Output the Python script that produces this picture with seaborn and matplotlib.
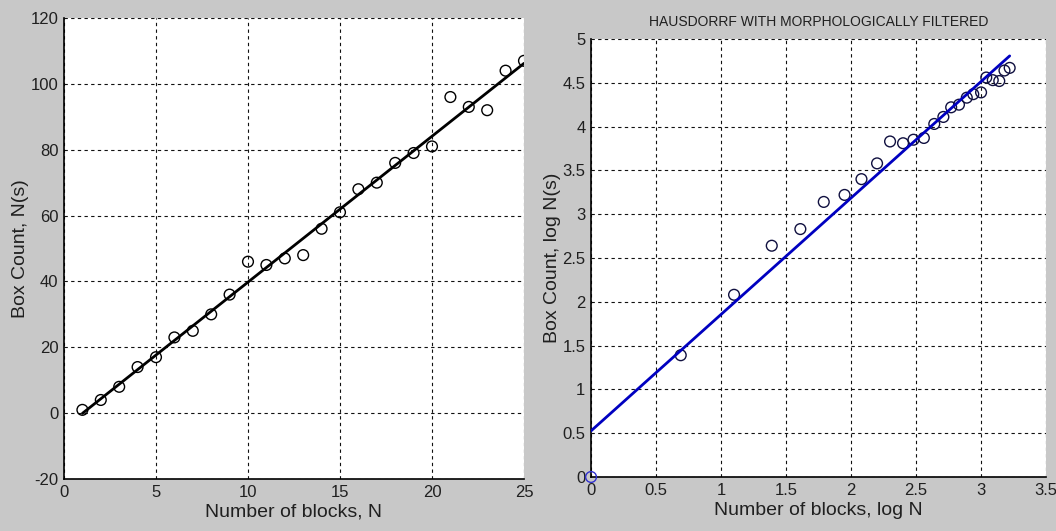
import matplotlib
matplotlib.use("Agg")
import matplotlib.pyplot as plt
import seaborn as sns
import numpy as np
import pandas as pd

# Left panel: number of blocks vs box count
blocks = [1, 2, 3, 4, 5, 6, 7, 8, 9, 10, 11, 12, 13, 14, 15, 16, 17, 18, 19, 20, 21, 22, 23, 24, 25]
box_count = [1, 4, 8, 14, 17, 23, 25, 30, 36, 46, 45, 47, 48, 56, 61, 68, 70, 76, 79, 81, 96, 93, 92, 104, 107]

# Right panel: log values
log_blocks = [0.00, 0.69, 1.10, 1.39, 1.61, 1.79, 1.95, 2.08, 2.20, 2.30, 2.40, 2.48, 2.56, 2.64, 2.71,
              2.77, 2.83, 2.89, 2.94, 3.00, 3.04, 3.09, 3.14, 3.18, 3.22]
log_box_count = [0.00, 1.39, 2.08, 2.64, 2.83, 3.14, 3.22, 3.40, 3.58, 3.83, 3.81, 3.85, 3.87, 4.03, 4.11,
                 4.22, 4.25, 4.33, 4.37, 4.39, 4.56, 4.53, 4.52, 4.64, 4.67]

title_right = "HAUSDORRF WITH MORPHOLOGICALLY FILTERED"

sns.set_style("white")
plt.rcParams['font.family'] = ['Liberation Sans Narrow', 'Liberation Sans', 'DejaVu Sans']
plt.rcParams['axes.unicode_minus'] = False

fig = plt.figure(figsize=(10.56, 5.31), dpi=100, facecolor="#c8c8c8")
ax1 = fig.add_axes([0.0606, 0.0979, 0.4356, 0.8682])
ax2 = fig.add_axes([0.5597, 0.1017, 0.4309, 0.8249])

left = pd.DataFrame({"x": blocks, "y": box_count})
right = pd.DataFrame({"x": log_blocks, "y": log_box_count})

# linear fits
p1 = np.polyfit(left["x"], left["y"], 1)
left["fit"] = np.polyval(p1, left["x"])
p2 = np.polyfit(right["x"], right["y"], 1)
right["fit"] = np.polyval(p2, right["x"])

sns.scatterplot(data=left, x="x", y="y", ax=ax1, marker="o", s=60,
                facecolors="none", edgecolor="black", linewidth=1, zorder=3)
sns.lineplot(data=left, x="x", y="fit", ax=ax1, color="black", linewidth=2, zorder=4)

# the origin point is drawn in blue in the original
sns.scatterplot(data=right.iloc[1:], x="x", y="y", ax=ax2, marker="o", s=60,
                facecolors="none", edgecolor="#101040", linewidth=1, zorder=3)
sns.scatterplot(data=right.iloc[:1], x="x", y="y", ax=ax2, marker="o", s=60,
                facecolors="none", edgecolor="#3030d0", linewidth=1, zorder=5, clip_on=False)
sns.lineplot(data=right, x="x", y="fit", ax=ax2, color="#0000c0", linewidth=2, zorder=4)

for ax in (ax1, ax2):
    ax.set_facecolor("white")
    ax.grid(True, color="#111111", linestyle=(0, (3, 3)), linewidth=0.8)
    for side in ("top", "right"):
        ax.spines[side].set_visible(False)
    for side in ("left", "bottom"):
        ax.spines[side].set_color("black")
        ax.spines[side].set_linewidth(1.2)
    ax.tick_params(labelsize=12, length=0, pad=4, colors="#202020")

ax1.set_xlim(0, 25)
ax1.set_ylim(-20, 120)
ax1.set_xticks(range(0, 26, 5))
ax1.set_yticks(range(-20, 121, 20))
ax1.set_xlabel("Number of blocks, N", fontsize=14, labelpad=3, color="#202020")
ax1.set_ylabel("Box Count, N(s)", fontsize=14, labelpad=1, color="#202020")

ax2.set_xlim(0, 3.5)
ax2.set_ylim(0, 5)
ax2.set_xticks(np.arange(0, 3.51, 0.5))
ax2.set_yticks(np.arange(0, 5.01, 0.5))
ax2.set_xticklabels(["0", "0.5", "1", "1.5", "2", "2.5", "3", "3.5"])
ax2.set_yticklabels(["0", "0.5", "1", "1.5", "2", "2.5", "3", "3.5", "4", "4.5", "5"])
ax2.set_xlabel("Number of blocks, log N", fontsize=14, labelpad=3, color="#202020")
ax2.set_ylabel("Box Count, log N(s)", fontsize=14, labelpad=1, color="#202020")
ax2.set_title(title_right, fontsize=10, pad=9, color="#202020")

plt.savefig("out.png", dpi=100, facecolor=fig.get_facecolor())
